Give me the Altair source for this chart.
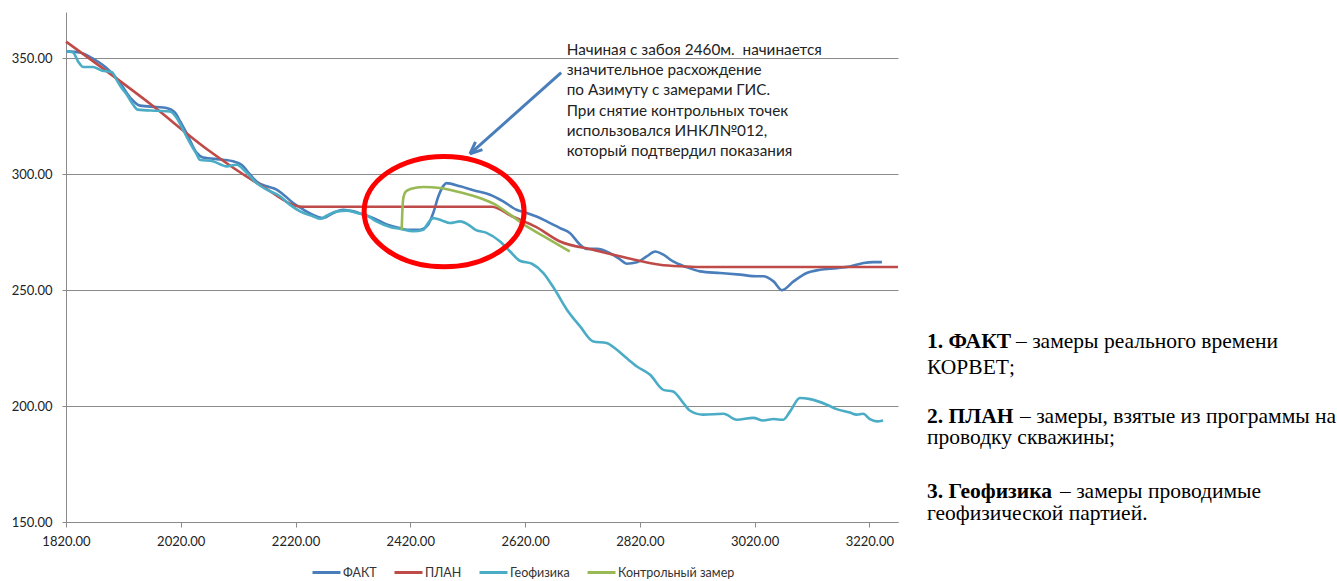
import altair as alt
import pandas as pd

# ---------------- data ----------------
series_names = ["ФАКТ", "ПЛАН", "Геофизика", "Контрольный замер"]
series_colors = ["#4A7EBB", "#BE4B48", "#4BACC6", "#98B954"]

fakt_depth = [1821, 1844, 1867, 1897, 1914, 1932, 1949, 1978, 1995, 2010, 2019, 2030, 2048, 2059, 2094,
              2111, 2126, 2141, 2152, 2170, 2187, 2199, 2216, 2234, 2257, 2268, 2286, 2303, 2321, 2338,
              2356, 2379, 2402, 2414, 2437, 2451, 2460, 2469, 2478, 2483, 2507, 2530, 2559, 2582, 2605,
              2623, 2640, 2658, 2681, 2698, 2716, 2727, 2745, 2768, 2786, 2797, 2815, 2832, 2847, 2861,
              2878, 2901, 2925, 2960, 2995, 3024, 3035, 3053, 3068, 3088, 3111, 3134, 3163, 3186, 3210,
              3227, 3242]
fakt_val = [353.0, 352.5, 349.9, 344.4, 339.5, 333.0, 329.6, 329.0, 328.6, 326.6, 322.8, 317.8, 309.2, 307.2, 306.3,
            305.6, 304.1, 299.8, 296.9, 294.8, 293.4, 291.2, 287.6, 284.7, 281.8, 281.1, 283.3, 284.7, 284.0, 282.6,
            281.1, 278.3, 276.8, 276.1, 276.1, 278.3, 283.3, 290.5, 295.1, 296.2, 294.8, 293.1, 291.2, 288.3, 284.7,
            283.3, 281.8, 279.7, 276.8, 274.7, 269.6, 267.8, 267.8, 266.0, 263.2, 261.4, 262.0, 264.6, 266.7, 265.3,
            262.4, 260.0, 258.1, 257.4, 256.7, 256.0, 256.0, 253.8, 250.0, 253.8, 257.4, 258.8, 259.5, 260.2, 261.7,
            262.1, 262.1]

plan_depth = [1820, 1966, 2067, 2158, 2233, 2562, 2599, 2639, 2681, 2738, 2798, 2855, 2890, 2925, 3270]
plan_val = [357.2, 330.5, 310.6, 295.5, 286.0, 286.0, 281.7, 277.3, 271.0, 267.5, 263.9, 261.0, 260.3, 260.0, 260.0]

geo_depth = [1821, 1832, 1841, 1850, 1867, 1882, 1900, 1908, 1917, 1926, 1937, 1945, 1978, 2001, 2013,
             2024, 2036, 2048, 2053, 2076, 2100, 2117, 2135, 2152, 2170, 2193, 2210, 2228, 2251, 2263,
             2274, 2292, 2309, 2327, 2344, 2361, 2385, 2402, 2425, 2443, 2451, 2460, 2475, 2489, 2507,
             2521, 2533, 2553, 2576, 2594, 2611, 2632, 2652, 2672, 2693, 2716, 2739, 2762, 2780, 2797,
             2815, 2838, 2861, 2878, 2896, 2907, 2930, 2966, 2989, 3018, 3035, 3053, 3070, 3082, 3099,
             3117, 3146, 3163, 3186, 3198, 3209, 3221, 3233, 3244]
geo_val = [353.0, 352.6, 348.7, 346.3, 346.3, 344.8, 344.0, 340.8, 337.2, 334.3, 330.0, 327.9, 327.4, 327.1, 324.3,
           319.2, 313.5, 308.5, 306.3, 305.6, 303.4, 304.1, 300.6, 296.2, 293.4, 290.5, 286.9, 284.0, 281.8, 280.8,
           282.1, 284.0, 284.3, 283.3, 282.3, 279.7, 277.3, 276.5, 275.4, 276.1, 279.0, 281.1, 280.1, 279.0, 279.7,
           278.3, 276.1, 274.7, 271.1, 266.7, 262.7, 261.4, 257.4, 250.2, 241.6, 234.4, 227.9, 227.2, 224.3, 220.7,
           217.1, 213.5, 207.0, 206.3, 201.3, 198.1, 196.3, 196.7, 194.1, 194.9, 193.8, 194.4, 194.1, 197.7, 203.5,
           203.0, 200.6, 198.7, 197.2, 196.3, 196.7, 194.4, 193.4, 193.8]

ctrl_depth = [2405, 2406, 2408, 2412, 2420, 2443, 2472, 2501, 2536, 2565, 2594, 2623, 2658, 2698]
ctrl_val = [276.1, 283.0, 290.0, 292.5, 293.6, 294.5, 294.1, 292.6, 290.2, 287.3, 282.6, 277.5, 272.5, 266.7]

x_ticks = [1820, 2020, 2220, 2420, 2620, 2820, 3020, 3220]
y_ticks = [150, 200, 250, 300, 350]

# annotation anchors (data coordinates)
ellipse_center = [2479, 283.9]
arrow_from = [2683, 343.8]
arrow_to = [2524, 308.8]

note_lines = [
    "Начиная с забоя 2460м.\u00a0 начинается",
    "значительное расхождение",
    "по Азимуту с замерами ГИС.",
    "При снятие контрольных точек",
    "использовался ИНКЛ№012,",
    "который подтвердил показания",
]

# right-hand description: (text, bold, x_px, y_px) relative to plot origin
side_text = [
    ("1. ФАКТ", True, 861, 329.5),
    ("– замеры реального времени", False, 950, 329.5),
    ("КОРВЕТ;", False, 861, 355.5),
    ("2. ПЛАН", True, 861, 404.5),
    ("– замеры, взятые из программы на", False, 954, 404.5),
    ("проводку скважины;", False, 861, 426),
    ("3. Геофизика", True, 861, 479.5),
    ("– замеры проводимые", False, 994, 479.5),
    ("геофизической партией.", False, 861, 501.5),
]

# ---------------- build table ----------------
rows = []
for name, ds, vs in [(series_names[0], fakt_depth, fakt_val),
                     (series_names[1], plan_depth, plan_val),
                     (series_names[2], geo_depth, geo_val),
                     (series_names[3], ctrl_depth, ctrl_val)]:
    for d, v in zip(ds, vs):
        rows.append({"series": name, "depth": d, "value": v})
df = pd.DataFrame(rows)

FONT = "Lato"
GRID = "#8a8a8a"

xscale = alt.Scale(domain=[1820, 3270], nice=False, zero=False)
yscale = alt.Scale(domain=[150, 370], nice=False, zero=False)
xaxis = alt.Axis(title=None, values=x_ticks, format=".2f", grid=False, labelFlush=False,
                 tickSize=5, tickColor=GRID, domainColor=GRID, labelPadding=8,
                 labelFont=FONT, labelFontSize=13, labelColor="#222")
yaxis = alt.Axis(title=None, values=y_ticks, format=".2f", grid=True, gridColor=GRID,
                 tickSize=4, tickColor=GRID, domainColor=GRID, labelPadding=10,
                 labelFont=FONT, labelFontSize=13, labelColor="#222")

lines = alt.Chart(df).mark_line(strokeWidth=2.6, interpolate="monotone").encode(
    x=alt.X("depth:Q", scale=xscale, axis=xaxis),
    y=alt.Y("value:Q", scale=yscale, axis=yaxis),
    color=alt.Color("series:N", sort=series_names,
                    scale=alt.Scale(domain=series_names, range=series_colors),
                    legend=alt.Legend(title=None, orient="none", legendX=245, legendY=545,
                                      direction="horizontal", symbolType="stroke",
                                      symbolSize=784, symbolStrokeWidth=3,
                                      labelFont=FONT, labelFontSize=12.5, labelColor="#333",
                                      labelOffset=1, columnPadding=11)),
)

ell_df = pd.DataFrame({"depth": [ellipse_center[0]], "value": [ellipse_center[1]]})
ellipse = alt.Chart(ell_df).mark_point(
    shape="M-1,0A1,0.69,0,1,1,1,0A1,0.69,0,1,1,-1,0Z",
    size=25600, filled=False, stroke="#FF0000", strokeWidth=5, opacity=1,
).encode(x=alt.X("depth:Q", scale=xscale, axis=xaxis),
         y=alt.Y("value:Q", scale=yscale, axis=yaxis))

arr_df = pd.DataFrame({"x": [arrow_from[0]], "y": [arrow_from[1]],
                       "x2": [arrow_to[0]], "y2": [arrow_to[1]]})
arrow_line = alt.Chart(arr_df).mark_rule(stroke="#4A7EBB", strokeWidth=3).encode(
    x=alt.X("x:Q", scale=xscale, axis=xaxis),
    y=alt.Y("y:Q", scale=yscale, axis=yaxis),
    x2="x2:Q", y2="y2:Q",
)
arrow_head = alt.Chart(arr_df).mark_point(
    shape="M0,0L-0.6,1.4M0,0L0.6,1.4", size=300, filled=False,
    stroke="#4A7EBB", strokeWidth=3, opacity=1, angle=228,
).encode(x=alt.X("x2:Q", scale=xscale, axis=xaxis),
         y=alt.Y("y2:Q", scale=yscale, axis=yaxis))

note = alt.Chart(alt.Data(values=[{}])).mark_text(
    text=note_lines, align="left", baseline="middle", lineHeight=20.2,
    font=FONT, fontSize=15.3, color="#222",
).encode(x=alt.value(500.7), y=alt.value(38))

side_layers = []
for txt, bold, px, py in side_text:
    side_layers.append(
        alt.Chart(alt.Data(values=[{}])).mark_text(
            text=txt, align="left", baseline="middle",
            font="Liberation Serif", fontSize=21.5,
            fontWeight="bold" if bold else "normal", color="#000",
        ).encode(x=alt.value(px), y=alt.value(py))
    )

chart = alt.layer(lines, ellipse, arrow_line, arrow_head, note, *side_layers).properties(
    width=832, height=510,
    autosize=alt.AutoSizeParams(type="none"),
    padding={"left": 66, "top": 12, "right": 439, "bottom": 59},
    background="white",
).configure_view(stroke=None)

chart.save("out.html", embed_options={"renderer": "svg", "actions": False})
